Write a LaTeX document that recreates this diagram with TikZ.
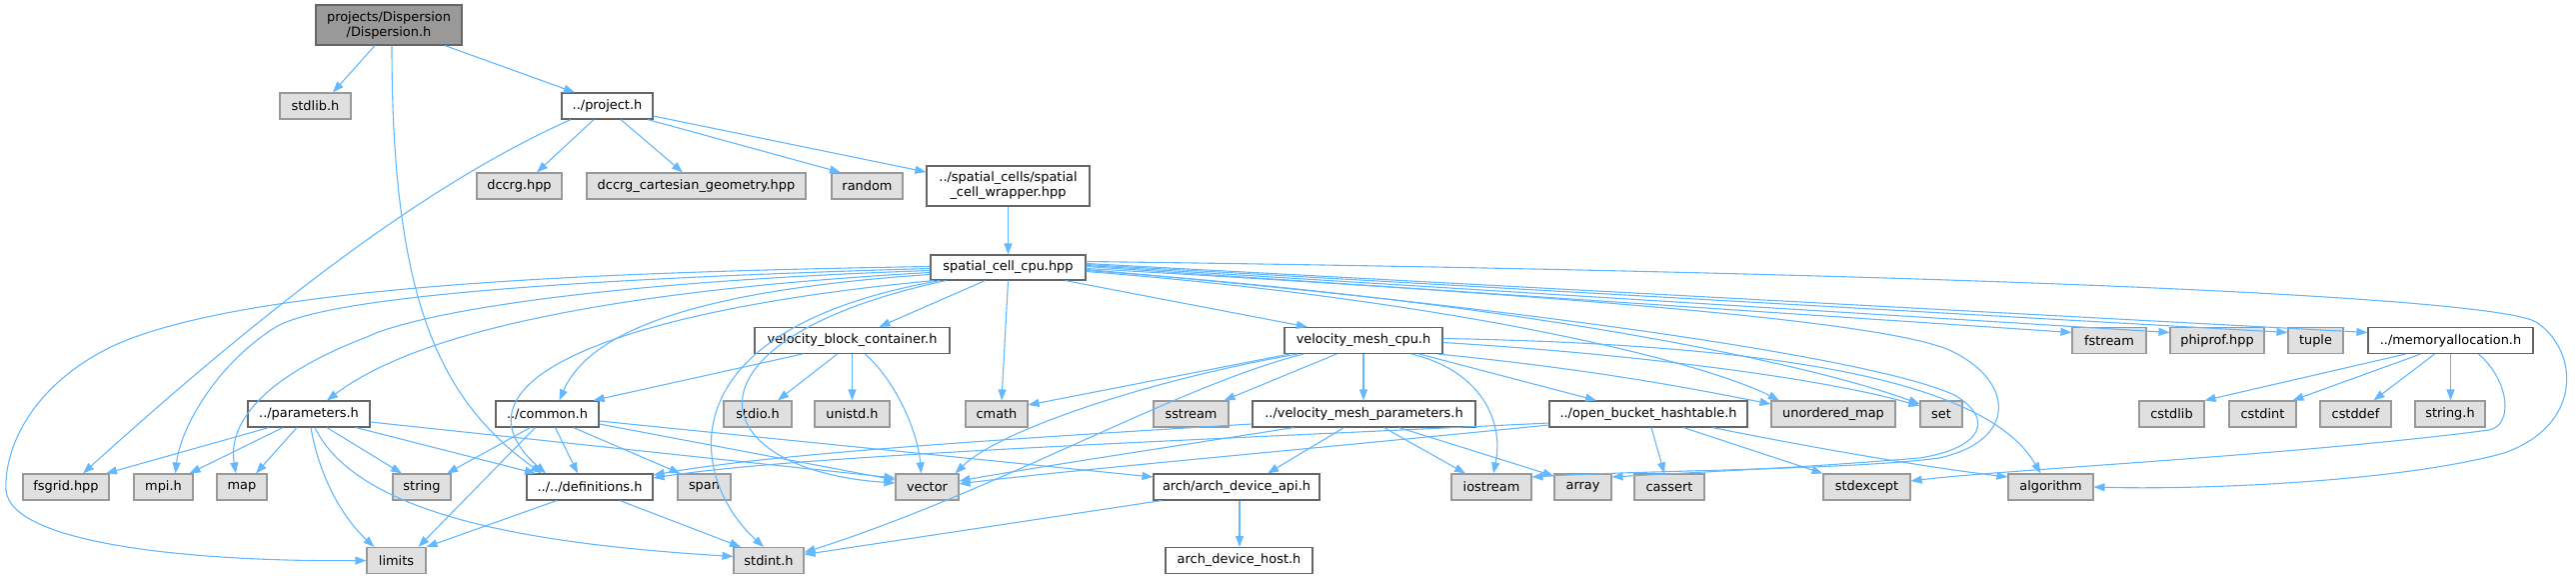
\documentclass[tikz,border=0pt]{standalone}
\usepackage{fontspec}
\setmainfont{DejaVu Sans}
\usetikzlibrary{arrows.meta}
\definecolor{edgeblue}{HTML}{63B8FF}
\definecolor{gfill}{HTML}{E0E0E0}
\definecolor{gdraw}{HTML}{999999}
\definecolor{wdraw}{HTML}{666666}
\definecolor{rfill}{HTML}{999999}
\tikzset{
  bx/.style={rectangle, inner sep=0pt, minimum height=26pt, line width=1.1pt, font=\fontsize{12.9}{15}\selectfont, align=center, text=black},
  gb/.style={bx, fill=gfill, draw=gdraw, minimum width=#1},
  wb/.style={bx, fill=white, draw=wdraw, minimum width=#1},
  rb/.style={bx, fill=rfill, draw=wdraw, minimum width=#1},
  lnk/.style={draw=edgeblue, line width=1.1pt, -{Triangle[length=11pt,width=8pt]}, fill=none}
}
\begin{document}
\begin{tikzpicture}[x=1pt,y=-1pt]
\useasboundingbox (0,0) rectangle (2577,579);
% nodes
\node[rb=146pt, minimum height=40pt] (disp) at (389,25) {projects/Dispersion\\/Dispersion.h};
\node[gb=71pt] (stdlib) at (315.5,106) {stdlib.h};
\node[wb=91pt] (project) at (607.5,106) {../project.h};
\node[gb=85pt] (dccrg) at (519.5,186) {dccrg.hpp};
\node[gb=219pt] (dccrgcg) at (696.5,186) {dccrg\_cartesian\_geometry.hpp};
\node[gb=71pt] (random) at (867.5,186) {random};
\node[wb=163pt, minimum height=40pt] (wrapper) at (1008.5,186) {../spatial\_cells/spatial\\\_cell\_wrapper.hpp};
\node[wb=155pt, minimum height=25pt] (scc) at (1008.5,267.5) {spatial\_cell\_cpu.hpp};
\node[wb=195pt] (vbc) at (852.5,340.5) {velocity\_block\_container.h};
\node[wb=158pt] (vmc) at (1364,340.5) {velocity\_mesh\_cpu.h};
\node[gb=74pt] (fstream) at (2110,340.5) {fstream};
\node[gb=94pt] (phiprof) at (2218,340.5) {phiprof.hpp};
\node[gb=55pt] (tuple) at (2316.5,340.5) {tuple};
\node[wb=165pt] (memalloc) at (2451.5,340.5) {../memoryallocation.h};
\node[wb=122pt] (params) at (309,414) {../parameters.h};
\node[wb=103pt] (common) at (547.5,414) {../common.h};
\node[gb=68pt] (stdio) at (758,414) {stdio.h};
\node[gb=75pt] (unistd) at (852.5,414) {unistd.h};
\node[gb=62pt] (cmath) at (997,414) {cmath};
\node[gb=75pt] (sstream) at (1191.5,414) {sstream};
\node[wb=223pt] (vmp) at (1364.5,414) {../velocity\_mesh\_parameters.h};
\node[wb=198pt] (obh) at (1649,414) {../open\_bucket\_hashtable.h};
\node[gb=124pt] (umap) at (1834,414) {unordered\_map};
\node[gb=42pt] (set) at (1942,414) {set};
\node[gb=65pt] (cstdlib) at (2172.5,414) {cstdlib};
\node[gb=67pt] (cstdint) at (2263.5,414) {cstdint};
\node[gb=71pt] (cstddef) at (2356.5,414) {cstddef};
\node[gb=70pt] (stringh) at (2451,414) {string.h};
\node[gb=86pt] (fsgrid) at (66,487) {fsgrid.hpp};
\node[gb=59pt] (mpi) at (163.5,487) {mpi.h};
\node[gb=50pt] (map) at (242,487) {map};
\node[gb=58pt] (string) at (422,487) {string};
\node[wb=126pt] (defs) at (590,487) {../../definitions.h};
\node[gb=53pt] (span) at (704.5,487) {span};
\node[gb=63pt] (vector) at (927.5,487) {vector};
\node[wb=166pt] (archapi) at (1237,487) {arch/arch\_device\_api.h};
\node[gb=80pt] (iostream) at (1492,487) {iostream};
\node[gb=57pt] (array) at (1583.5,487) {array};
\node[gb=70pt] (cassert) at (1670,487) {cassert};
\node[gb=87pt] (stdexcept) at (1867.5,487) {stdexcept};
\node[gb=85pt] (algorithm) at (2051.5,487) {algorithm};
\node[gb=59pt] (limits) at (396.5,560.5) {limits};
\node[gb=70pt] (stdint) at (769,560.5) {stdint.h};
\node[wb=147pt] (archhost) at (1239.5,560.5) {arch\_device\_host.h};
% Dispersion
\draw[lnk] ([xshift=-14pt]disp.south) -- ([xshift=17.5pt]stdlib.north);
\draw[lnk] ([xshift=56pt]disp.south) -- ([xshift=-32.5pt]project.north);
\draw[lnk] ([xshift=3pt]disp.south) .. controls (392,300) and (440,400) .. ([xshift=-48pt]defs.north);
% project
\draw[lnk] ([xshift=-36.5pt]project.south) .. controls (470,165) and (330,250) .. ([xshift=17pt]fsgrid.north);
\draw[lnk] ([xshift=-13.5pt]project.south) -- ([xshift=17.5pt]dccrg.north);
\draw[lnk] ([xshift=13.5pt]project.south) -- ([xshift=-13.5pt]dccrgcg.north);
\draw[lnk] ([xshift=40.5pt]project.south) -- ([xshift=-26.5pt]random.north);
\draw[lnk] ([yshift=-10pt]project.east) -- ([yshift=14pt]wrapper.west);
\draw[lnk] (wrapper.south) -- (scc.north);
% spatial_cell_cpu, left side
\draw[lnk] ([yshift=1pt]scc.west) .. controls (600,272) and (250,285) .. (115,345) .. controls (30,385) and (4,450) .. (6,490) .. controls (10,545) and (200,562) .. (limits.west);
\draw[lnk] ([yshift=-1pt]scc.west) .. controls (600,278) and (330,295) .. (276,327) .. controls (215,365) and (180,430) .. ([xshift=12pt]mpi.north);
\draw[lnk] ([yshift=-3pt]scc.west) .. controls (600,282) and (420,312) .. (367,337) .. controls (260,378) and (228,425) .. ([xshift=-6pt]map.north);
\draw[lnk] ([yshift=-5pt]scc.west) .. controls (620,290) and (420,330) .. ([xshift=18pt]params.north);
\draw[lnk] ([yshift=-7pt]scc.west) .. controls (700,290) and (590,330) .. ([xshift=12pt]common.north);
\draw[lnk] ([xshift=4pt]scc.south west) .. controls (620,310) and (440,380) .. ([xshift=-44pt]defs.north);
\draw[lnk] ([xshift=10pt]scc.south west) .. controls (660,330) and (690,480) .. ([xshift=-5pt]stdint.north);
\draw[lnk] ([xshift=16pt]scc.south west) .. controls (670,340) and (700,470) .. ([yshift=4pt]vector.west);
\draw[lnk] ([xshift=-23pt]scc.south) -- ([xshift=27pt]vbc.north);
\draw[lnk] (scc.south) -- ([xshift=5pt]cmath.north);
\draw[lnk] ([xshift=57pt]scc.south) -- ([xshift=-56pt]vmc.north);
% spatial_cell_cpu, right side
\draw[lnk] ([yshift=1pt]scc.east) -- ([yshift=8pt]fstream.west);
\draw[lnk] ([yshift=2pt]scc.east) -- ([yshift=8pt]phiprof.west);
\draw[lnk] ([yshift=3pt]scc.east) -- ([yshift=8pt]tuple.west);
\draw[lnk] ([yshift=4pt]scc.east) -- ([yshift=8pt]memalloc.west);
\draw[lnk] ([yshift=6pt]scc.east) .. controls (1900,272) and (2490,295) .. (2537,322) .. controls (2580,350) and (2585,425) .. (2505,453) .. controls (2400,482) and (2200,490) .. (algorithm.east);
\draw[lnk] ([yshift=-4pt]scc.east) .. controls (1450,300) and (1700,360) .. ([xshift=-54pt]umap.north);
\draw[lnk] ([yshift=-3pt]scc.east) .. controls (1500,300) and (1800,360) .. ([yshift=10pt]set.west);
\draw[lnk] ([yshift=-1pt]scc.east) .. controls (1550,295) and (1880,320) .. (1950,350) .. controls (2015,380) and (2020,440) .. (1940,458) .. controls (1850,470) and (1650,470) .. ([yshift=10pt]iostream.east);
\draw[lnk] ([yshift=-2pt]scc.east) .. controls (1550,310) and (1880,360) .. (1955,395) .. controls (1995,418) and (1985,448) .. (1920,458) .. controls (1800,468) and (1700,472) .. ([yshift=10pt]array.east);
% velocity_mesh_cpu
\draw[lnk] ([xshift=-74pt]vmc.south) -- ([yshift=9pt]cmath.east);
\draw[lnk] ([xshift=-66pt]vmc.south) .. controls (1150,380) and (1000,430) .. ([xshift=28pt]vector.north);
\draw[lnk] ([xshift=-60pt]vmc.south) .. controls (1180,385) and (1000,490) .. ([yshift=8pt]stdint.east);
\draw[lnk] ([xshift=-27pt]vmc.south) -- ([xshift=33pt]sstream.north);
\draw[lnk] (vmc.south) -- ([xshift=-0.5pt]vmp.north);
\draw[lnk] ([xshift=48pt]vmc.south) .. controls (1480,370) and (1505,420) .. ([xshift=2pt]iostream.north);
\draw[lnk] ([xshift=56pt]vmc.south) -- ([xshift=-52pt]obh.north);
\draw[lnk] ([xshift=-5pt]vmc.south east) .. controls (1600,370) and (1700,390) .. ([yshift=10pt]umap.west);
\draw[lnk] ([yshift=-2pt]vmc.east) .. controls (1650,355) and (1830,380) .. ([yshift=8pt]set.west);
\draw[lnk] ([yshift=2pt]vmc.east) .. controls (1800,345) and (1990,385) .. ([xshift=-10pt]algorithm.north);
% velocity_mesh_parameters
\draw[lnk] ([yshift=-10pt]vmp.west) .. controls (900,445) and (750,458) .. ([yshift=12pt]defs.east);
\draw[lnk] ([xshift=-70pt]vmp.south) .. controls (1150,450) and (1020,470) .. ([yshift=6pt]vector.east);
\draw[lnk] ([xshift=-20pt]vmp.south) -- ([xshift=31pt]archapi.north);
\draw[lnk] ([xshift=20pt]vmp.south) -- ([xshift=-26pt]iostream.north);
\draw[lnk] ([xshift=35pt]vmp.south) -- ([yshift=11pt]array.west);
% open_bucket_hashtable
\draw[lnk] ([yshift=-9pt]obh.west) .. controls (1200,440) and (800,455) .. ([yshift=9pt]defs.east);
\draw[lnk] ([yshift=-11pt]obh.west) .. controls (1300,450) and (1050,472) .. ([yshift=3pt]vector.east);
\draw[lnk] ([xshift=3pt]obh.south) -- ([xshift=-5pt]cassert.north);
\draw[lnk] ([xshift=35pt]obh.south) -- ([xshift=-44pt]stdexcept.north);
\draw[lnk] ([xshift=64pt]obh.south) .. controls (1850,455) and (1950,470) .. ([yshift=10pt]algorithm.west);
% memoryallocation
\draw[lnk] ([xshift=-45pt]memalloc.south) -- ([xshift=33pt]cstdlib.north);
\draw[lnk] ([xshift=-30pt]memalloc.south) -- ([xshift=30pt]cstdint.north);
\draw[lnk] ([xshift=-16pt]memalloc.south) -- ([xshift=18pt]cstddef.north);
\draw[lnk] (memalloc.south) -- ([xshift=0.5pt]stringh.north);
\draw[lnk] ([xshift=28pt]memalloc.south) .. controls (2510,380) and (2515,425) .. (2490,430) .. controls (2300,455) and (2000,470) .. ([yshift=6pt]stdexcept.east);
% velocity_block_container
\draw[lnk] ([xshift=-50pt]vbc.south) -- ([xshift=-6pt]common.north east);
\draw[lnk] ([xshift=-15pt]vbc.south) -- ([xshift=20pt]stdio.north);
\draw[lnk] (vbc.south) -- (unistd.north);
\draw[lnk] ([xshift=13pt]vbc.south) .. controls (895,380) and (918,430) .. ([xshift=-6pt]vector.north);
% common
\draw[lnk] ([xshift=-17pt]common.south) -- ([xshift=25pt]string.north);
\draw[lnk] ([xshift=-12pt]common.south) -- ([xshift=22pt]limits.north);
\draw[lnk] ([xshift=8pt]common.south) -- ([xshift=-12pt]defs.north);
\draw[lnk] ([xshift=26pt]common.south) -- ([xshift=-24pt]span.north);
\draw[lnk] ([yshift=-10pt]common.east) -- ([yshift=7pt]vector.west);
\draw[lnk] ([yshift=-7pt]common.east) -- ([yshift=10pt]archapi.west);
% parameters
\draw[lnk] ([xshift=-40pt]params.south) -- ([xshift=40pt]fsgrid.north);
\draw[lnk] ([xshift=-26pt]params.south) -- ([xshift=26pt]mpi.north);
\draw[lnk] ([xshift=-12pt]params.south) -- ([xshift=14pt]map.north);
\draw[lnk] ([xshift=18pt]params.south) -- ([xshift=-20pt]string.north);
\draw[lnk] ([xshift=47pt]params.south) -- ([xshift=-54pt]defs.north);
\draw[lnk] ([xshift=2pt]params.south) .. controls (320,480) and (345,520) .. ([xshift=-22pt]limits.north);
\draw[lnk] ([xshift=6pt]params.south) .. controls (360,520) and (550,545) .. ([yshift=4pt]stdint.west);
\draw[lnk] ([yshift=-8pt]params.east) -- ([yshift=9pt]vector.west);
% definitions
\draw[lnk] ([xshift=-33pt]defs.south) -- (limits.north east);
\draw[lnk] ([xshift=30pt]defs.south) -- ([xshift=-28pt]stdint.north);
% arch_device_api
\draw[lnk] ([xshift=3pt]archapi.south) -- ([xshift=0.5pt]archhost.north);
\draw[lnk] ([xshift=-75pt]archapi.south) -- ([yshift=6pt]stdint.east);
\end{tikzpicture}
\end{document}
